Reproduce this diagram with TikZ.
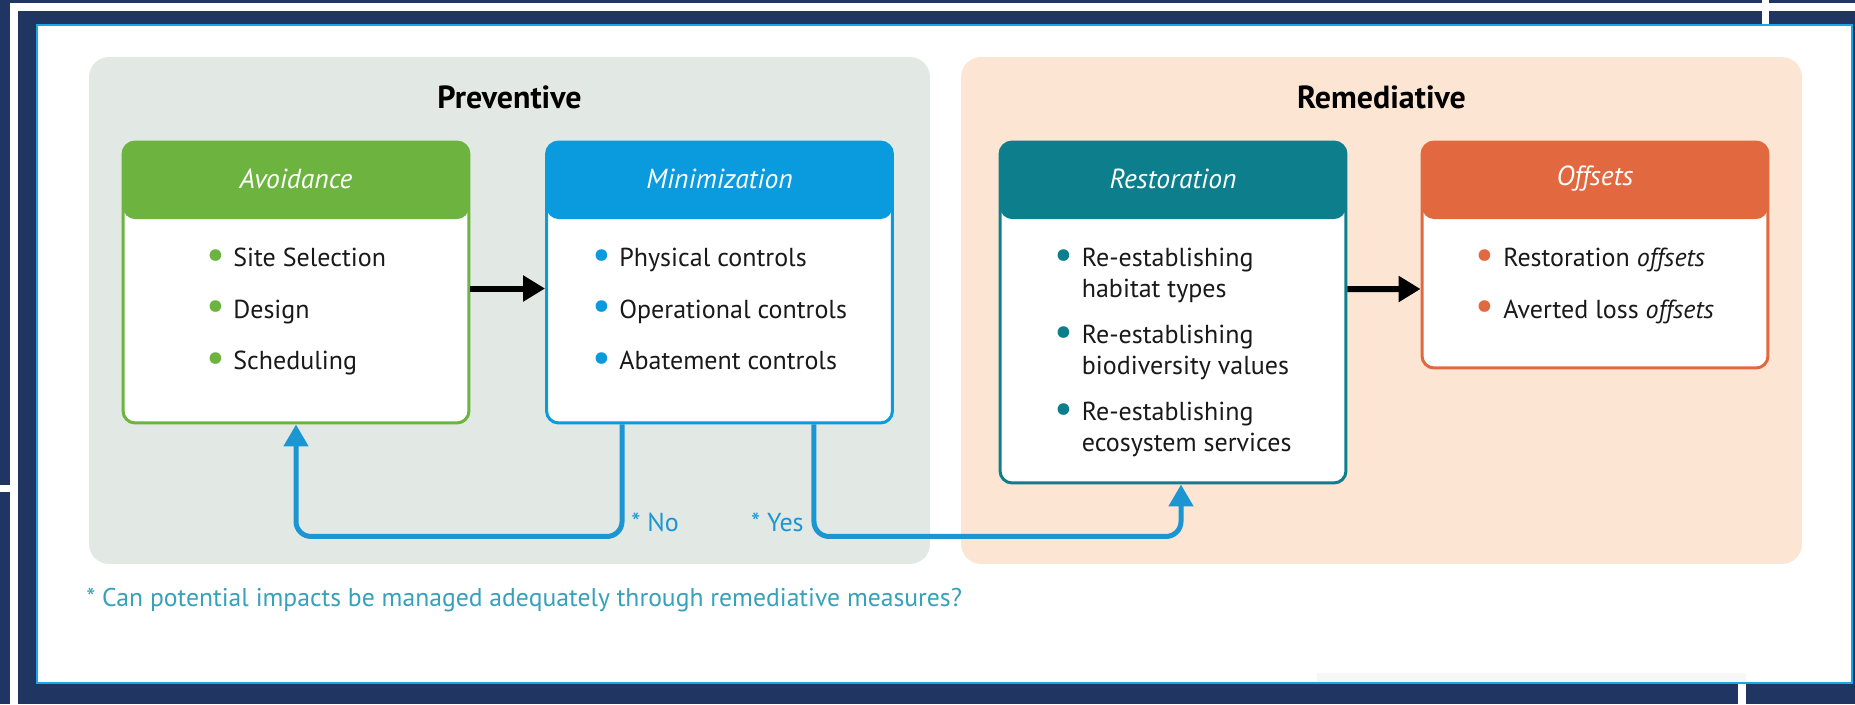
\documentclass[tikz,border=0pt]{standalone}
\usepackage{graphicx}
\usepackage{fontspec}
\setmainfont{PT Sans}
\usetikzlibrary{arrows.meta,positioning,calc}
\definecolor{navy}{HTML}{213562}
\definecolor{frameblue}{HTML}{1AA7E8}
\definecolor{prevgray}{HTML}{E2E9E4}
\definecolor{remedpeach}{HTML}{FDE5D3}
\definecolor{avoidgreen}{HTML}{6DB33F}
\definecolor{minblue}{HTML}{0A9BDF}
\definecolor{restteal}{HTML}{0D7E8C}
\definecolor{offorange}{HTML}{E2693F}
\definecolor{flowblue}{HTML}{1B96D3}
\definecolor{notecyan}{HTML}{35A2BA}
\newcommand{\bul}[1]{\makebox[1.05em][l]{\textcolor{#1}{\raisebox{-0.12ex}{\scalebox{1.6}{\textbullet}}}}}
\newcommand{\bulgap}{\hspace*{1.05em}}
\tikzset{
  x=0.02cm, y=-0.02cm,
  panel/.style = {rounded corners=0.4cm, inner sep=0pt},
  paneltitle/.style = {font=\fontsize{18.2}{21}\selectfont\bfseries, text=black},
  stage/.style = {draw=#1, fill=white, line width=0.06cm, rounded corners=0.24cm,
    minimum width=6.92cm, inner sep=0pt,
    path picture={\fill[#1] (path picture bounding box.north west)
      rectangle ([yshift=-1.54cm]path picture bounding box.north east);}},
  stagetitle/.style = {font=\fontsize{15.7}{19}\selectfont\itshape, text=white},
  items/.style = {font=\fontsize{14.8}{29.3}\selectfont, text=black!90, align=left,
    inner sep=0pt, anchor=north},
  flow/.style = {draw=flowblue, line width=0.1cm, rounded corners=0.3cm,
    -{Triangle[length=0.44cm,width=0.48cm]}},
  push/.style = {line width=0.12cm, -{Triangle[length=0.44cm,width=0.5cm]}},
  answer/.style = {text=flowblue, font=\fontsize{14.8}{18}\selectfont, inner sep=0pt}
}
\begin{document}
\begin{tikzpicture}
\useasboundingbox (0,0) rectangle (1855,704);
% frame
\fill[navy] (0,0) rectangle (1855,704);
\fill[white] (10,3) rectangle (1855,11);
\fill[white] (10,3) rectangle (18,704);
\fill[white] (0,485) rectangle (10,492);
\fill[white] (1762,0) rectangle (1769,24);
\fill[white] (1738,684) rectangle (1746,704);
\draw[frameblue, fill=white, line width=0.04cm] (37,25) rectangle (1852,683);
\fill[black!3] (1317,673) rectangle (1746,682);

% panels
\node[panel, fill=prevgray, minimum width=16.82cm, minimum height=10.14cm] (prev) at (509.5,310.5) {};
\node[panel, fill=remedpeach, minimum width=16.82cm, minimum height=10.14cm] (remed) at (1381.5,310.5) {};
\node[paneltitle] (prevT) at ([yshift=-0.82cm]prev.north) {Preventive};
\node[paneltitle] (remedT) at ([yshift=-0.82cm]remed.north) {Remediative};

% stages
\node[stage=avoidgreen, minimum height=5.62cm] (avoid) at (296,282.5) {};
\node[stage=minblue, minimum height=5.62cm] (minim) at (719.5,282.5) {};
\node[stage=restteal, minimum height=6.82cm] (resto) at (1173,312.5) {};
\node[stage=offorange, minimum height=4.52cm] (offs) at (1595,255) {};

\node[stagetitle] (avoidT) at ([yshift=-0.77cm]avoid.north) {Avoidance};
\node[stagetitle] (minimT) at ([yshift=-0.77cm]minim.north) {Minimization};
\node[stagetitle] (restoT) at ([yshift=-0.77cm]resto.north) {Restoration};
\node[stagetitle] (offsT) at ([yshift=-0.77cm]offs.north) {Offsets};

\node[items] (avoidL) at ([yshift=-2.15cm]avoid.north)
  {\bul{avoidgreen}Site Selection\\ \bul{avoidgreen}Design\\ \bul{avoidgreen}Scheduling};
\node[items] (minimL) at ([yshift=-2.15cm]minim.north)
  {\bul{minblue}Physical controls\\ \bul{minblue}Operational controls\\ \bul{minblue}Abatement controls};
\node[items, font=\fontsize{14.8}{17.6}\selectfont] (restoL) at ([yshift=-2.15cm]resto.north)
  {\bul{restteal}Re-establishing\\ \bulgap habitat types\\[0.3cm]
   \bul{restteal}Re-establishing\\ \bulgap biodiversity values\\[0.3cm]
   \bul{restteal}Re-establishing\\ \bulgap ecosystem services};
\node[items] (offsL) at ([yshift=-2.15cm]offs.north)
  {\bul{offorange}Restoration \textit{offsets}\\ \bul{offorange}Averted loss \textit{offsets}};

% connectors
\draw[push] ([yshift=-0.12cm]avoid.east) -- ([yshift=-0.12cm]minim.west);
\draw[push] ([yshift=0.47cm]resto.east) -- ([yshift=-0.68cm]offs.west);
\draw[flow] ([xshift=-1.95cm]minim.south) |- ([yshift=-2.24cm]avoid.south) -- (avoid.south);
\draw[flow] ([xshift=1.89cm]minim.south) |- ([xshift=0.16cm,yshift=-1.04cm]resto.south)
  -- ([xshift=0.16cm]resto.south);
\node[answer, anchor=west] (noT) at (631,522) {* No};
\node[answer, anchor=east] (yesT) at (804,522) {* Yes};

\node[text=notecyan, font=\fontsize{14.6}{18}\selectfont, anchor=west, inner sep=0pt] (note) at (86,600)
  {* Can potential impacts be managed adequately through remediative measures?};
\end{tikzpicture}
\end{document}
